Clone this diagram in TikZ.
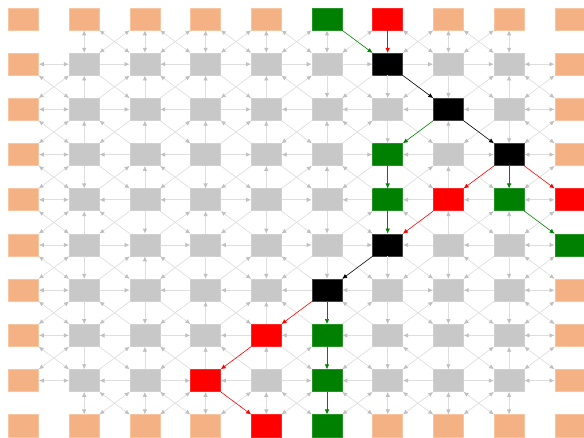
\documentclass[tikz,border=0pt]{standalone}
\usetikzlibrary{arrows.meta}
\definecolor{orng}{HTML}{F4B183}
\definecolor{gbox}{HTML}{C8C8C8}
\definecolor{gline}{HTML}{DEDEDE}
\definecolor{gtip}{HTML}{C0C0C0}
\definecolor{grn}{HTML}{008000}
\definecolor{rd}{HTML}{FF0000}
\tikzset{
  cell/.style={minimum width=30pt,minimum height=22pt,inner sep=0pt,line width=0.6pt},
  st1/.style={cell,fill=orng,draw=orng!75!white},
  st0/.style={cell,fill=gbox,draw=gbox!85!white},
  greenbox/.style={cell,fill=grn,draw=grn!85!white},
  redbox/.style={cell,fill=rd,draw=rd!85!white},
  blackbox/.style={cell,fill=black,draw=black!75!white},
  ge/.style={draw=gline,line width=0.7pt},
  gt/.tip={Latex[length=5pt,width=4.5pt,color=gtip]},
  d1/.style={-gt},
  d-1/.style={gt-},
  d2/.style={gt-gt},
  d0/.style={draw=none},
  ce/.style={draw=#1,line width=0.6pt,-{Latex[length=5pt,width=4.5pt,color=#1]}}
}
\begin{document}
\begin{tikzpicture}[x=1pt,y=-1pt]
\useasboundingbox (0,0) rectangle (584,438);
% nodes
\foreach \i in {0,...,9}{
  \foreach \j in {0,...,9}{
    \pgfmathtruncatemacro\isb{or(or(\i==0,\i==9),or(\j==0,\j==9))}
    \node[st\isb] (n-\i-\j) at ({23.5+60.7*\i},{19+45.2*\j}) {};
  }
}
% coloured nodes
\foreach \i/\j in {5/0,6/3,6/4,8/4,9/5,5/7,5/8,5/9}
  \node[greenbox] (n-\i-\j) at ({23.5+60.7*\i},{19+45.2*\j}) {};
\foreach \i/\j in {6/0,7/4,9/4,4/7,3/8,4/9}
  \node[redbox] (n-\i-\j) at ({23.5+60.7*\i},{19+45.2*\j}) {};
\foreach \i/\j in {6/1,7/2,8/3,6/5,5/6}
  \node[blackbox] (n-\i-\j) at ({23.5+60.7*\i},{19+45.2*\j}) {};
% horizontal edges: row j, edge (k,j)-(k+1,j); 1 = right
\foreach \j/\row in {
  1/{2,1,-1,1,1,1,1,1,2},
  2/{2,1,-1,1,-1,-1,-1,-1,2},
  3/{2,-1,-1,1,-1,1,-1,1,2},
  4/{2,-1,-1,1,1,-1,-1,-1,2},
  5/{2,1,1,-1,1,1,-1,-1,2},
  6/{2,1,-1,-1,-1,-1,1,-1,2},
  7/{2,-1,1,-1,-1,-1,-1,-1,2},
  8/{2,-1,1,-1,1,-1,-1,1,2}}{
  \foreach \d [count=\k from 0] in \row {
    \pgfmathtruncatemacro\kk{\k+1}
    \draw[ge,d\d] (n-\k-\j) -- (n-\kk-\j);
  }
}
% vertical edges: column i, edge (i,k)-(i,k+1); 1 = down
\foreach \i/\col in {
  1/{2,-1,-1,1,-1,1,1,1,2},
  2/{2,-1,-1,-1,1,-1,1,-1,2},
  3/{2,-1,-1,1,-1,1,-1,-1,2},
  4/{2,-1,-1,-1,1,1,-1,-1,2},
  5/{2,1,-1,-1,1,1,0,0,0},
  6/{0,1,1,0,0,1,1,1,2},
  7/{2,1,-1,-1,-1,1,1,1,2},
  8/{2,-1,1,0,-1,1,1,-1,2}}{
  \foreach \d [count=\k from 0] in \col {
    \pgfmathtruncatemacro\kk{\k+1}
    \draw[ge,d\d] (n-\i-\k) -- (n-\i-\kk);
  }
}
% diagonal down-right: row j, edge (k,j)-(k+1,j+1); 1 = down-right
\foreach \j/\row in {
  0/{0,2,2,2,2,0,2,2,0},
  1/{2,1,-1,1,-1,1,0,1,2},
  2/{2,-1,1,-1,1,-1,1,0,2},
  3/{2,1,-1,1,1,-1,1,1,0},
  4/{2,-1,1,-1,1,1,-1,1,0},
  5/{2,1,-1,1,-1,1,1,-1,2},
  6/{2,-1,1,1,-1,-1,1,1,2},
  7/{2,1,-1,-1,1,1,-1,1,2},
  8/{0,2,2,0,2,2,2,2,0}}{
  \foreach \d [count=\k from 0] in \row {
    \pgfmathtruncatemacro\kk{\k+1}
    \pgfmathtruncatemacro\jj{\j+1}
    \draw[ge,d\d] (n-\k-\j) -- (n-\kk-\jj);
  }
}
% diagonal down-left: row j, edge (k+1,j)-(k,j+1); 1 = down-left
\foreach \j/\row in {
  0/{0,2,2,2,2,2,2,2,0},
  1/{2,-1,-1,1,-1,1,1,-1,2},
  2/{2,1,-1,-1,1,-1,0,1,2},
  3/{2,-1,1,1,-1,1,-1,0,2},
  4/{2,1,-1,1,1,-1,0,-1,2},
  5/{2,-1,1,-1,1,0,1,1,2},
  6/{2,1,1,-1,0,-1,-1,1,2},
  7/{2,-1,1,0,-1,1,1,-1,2},
  8/{0,2,2,2,2,2,2,2,0}}{
  \foreach \d [count=\k from 0] in \row {
    \pgfmathtruncatemacro\kk{\k+1}
    \pgfmathtruncatemacro\jj{\j+1}
    \draw[ge,d\d] (n-\kk-\j) -- (n-\k-\jj);
  }
}
% coloured edges
\draw[ce=grn] (n-5-0) -- (n-6-1);
\draw[ce=rd] (n-6-0) -- (n-6-1);
\draw[ce=black] (n-6-1) -- (n-7-2);
\draw[ce=black] (n-7-2) -- (n-8-3);
\draw[ce=grn] (n-7-2) -- (n-6-3);
\draw[ce=grn] (n-6-3) -- (n-6-4);
\draw[ce=grn] (n-6-4) -- (n-6-5);
\draw[ce=rd] (n-8-3) -- (n-7-4);
\draw[ce=grn] (n-8-3) -- (n-8-4);
\draw[ce=rd] (n-8-3) -- (n-9-4);
\draw[ce=grn] (n-8-4) -- (n-9-5);
\draw[ce=rd] (n-7-4) -- (n-6-5);
\draw[ce=black] (n-6-5) -- (n-5-6);
\draw[ce=rd] (n-5-6) -- (n-4-7);
\draw[ce=grn] (n-5-6) -- (n-5-7);
\draw[ce=grn] (n-5-7) -- (n-5-8);
\draw[ce=grn] (n-5-8) -- (n-5-9);
\draw[ce=rd] (n-4-7) -- (n-3-8);
\draw[ce=rd] (n-3-8) -- (n-4-9);
\end{tikzpicture}
\end{document}
